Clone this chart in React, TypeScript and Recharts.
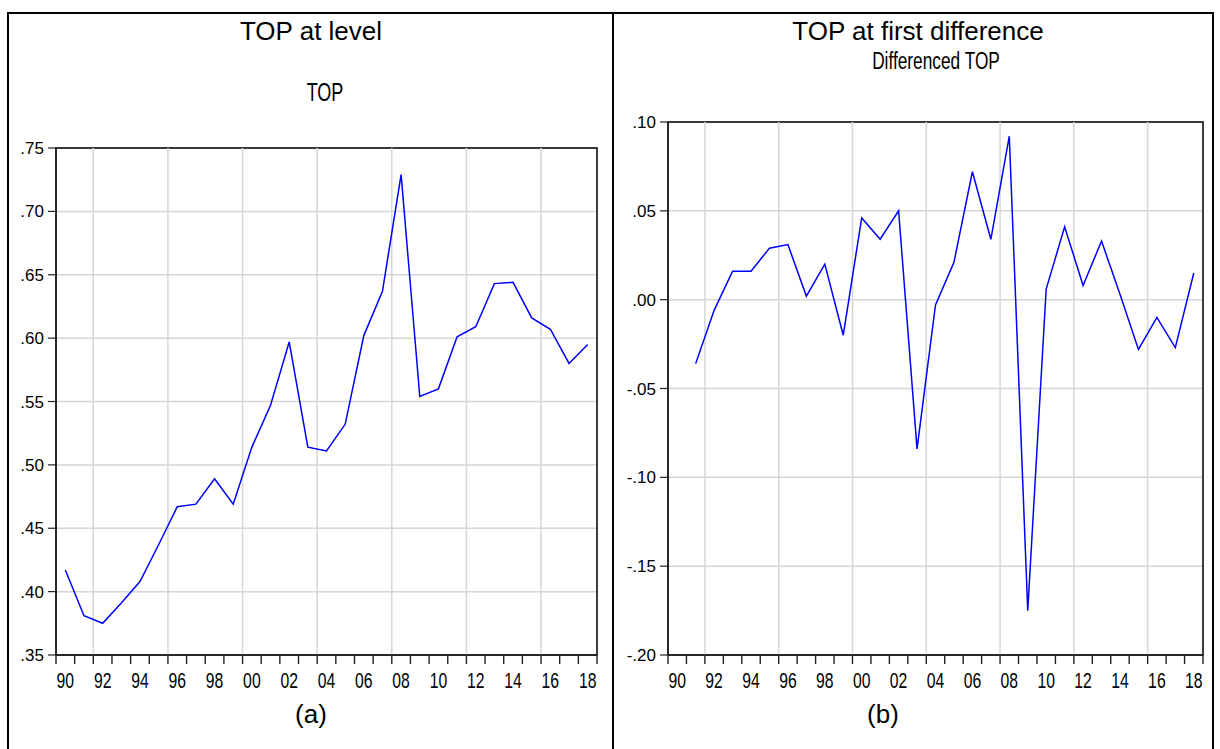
import React from 'react'
import { LineChart, Line, XAxis, YAxis, CartesianGrid, ReferenceLine, ReferenceArea } from 'recharts'

const SANS = "'Liberation Sans', Arial, sans-serif"

// years shown on the level chart
const YEARS = [
  1990, 1991, 1992, 1993, 1994, 1995, 1996, 1997, 1998, 1999,
  2000, 2001, 2002, 2003, 2004, 2005, 2006, 2007, 2008, 2009,
  2010, 2011, 2012, 2013, 2014, 2015, 2016, 2017, 2018
]

const TOP_LEVEL = [
  0.417, 0.381, 0.375, 0.391, 0.408, 0.437, 0.467, 0.469, 0.489, 0.469,
  0.514, 0.547, 0.597, 0.514, 0.511, 0.532, 0.602, 0.637, 0.729, 0.554,
  0.56, 0.601, 0.609, 0.643, 0.644, 0.616, 0.607, 0.58, 0.595
]

// first difference starts one year later
const DIFF_YEARS = YEARS.slice(1)

const TOP_DIFF = [
  -0.036, -0.006, 0.016, 0.016, 0.029, 0.031, 0.002, 0.02, -0.02,
  0.046, 0.034, 0.05, -0.084, -0.003, 0.021, 0.072, 0.034, 0.092, -0.175,
  0.006, 0.041, 0.008, 0.033, 0.003, -0.028, -0.01, -0.027, 0.015
]

const LEVEL_TICKS = [0.35, 0.4, 0.45, 0.5, 0.55, 0.6, 0.65, 0.7, 0.75]
const DIFF_TICKS = [-0.2, -0.15, -0.1, -0.05, 0, 0.05, 0.1]

// tick marks at every year boundary, labels every second year, grid every fourth
const YEAR_BOUNDS = [...YEARS, 2019]
const LABEL_YEARS = [1990, 1992, 1994, 1996, 1998, 2000, 2002, 2004, 2006, 2008, 2010, 2012, 2014, 2016, 2018]
const GRID_YEARS = [1992, 1996, 2000, 2004, 2008, 2012, 2016]

const fmtY = (v: number) => v.toFixed(2).replace(/^(-?)0\./, '$1.')
const fmtYear = (v: number) => String(Math.floor(v) % 100).padStart(2, '0')

// tick mark on the year boundary, label centred in the year's interval
function YearTick(props: any) {
  const { x, y, payload, width } = props
  const step = width / (YEAR_BOUNDS.length - 1)
  const yr = payload.value
  return (
    <g>
      <line x1={x} y1={y} x2={x} y2={y + 9} stroke="#222" strokeWidth={1.4} />
      {LABEL_YEARS.includes(yr) && (
        <text
          transform={`translate(${x + step / 2},${y + 33}) scale(0.7,1)`}
          textAnchor="middle"
          fontFamily={SANS}
          fontSize={22.5}
          fill="#000"
        >
          {fmtYear(yr)}
        </text>
      )}
    </g>
  )
}

interface PanelProps {
  years: number[]
  values: number[]
  yTicks: number[]
  width: number
  height: number
  margin: { top: number; right: number; bottom: number; left: number }
  yAxisWidth: number
}

function Panel({ years, values, yTicks, width, height, margin, yAxisWidth }: PanelProps) {
  // points sit in the middle of each year's interval
  const data = years.map((y, i) => ({ x: y + 0.5, v: values[i] }))
  const yMin = yTicks[0]
  const yMax = yTicks[yTicks.length - 1]
  const xMin = YEAR_BOUNDS[0]
  const xMax = YEAR_BOUNDS[YEAR_BOUNDS.length - 1]

  return (
    <LineChart width={width} height={height} data={data} margin={margin}>
      <CartesianGrid vertical={false} stroke="#d6d6d6" strokeWidth={1.5} />
      {GRID_YEARS.map((g) => (
        <ReferenceLine key={g} x={g} stroke="#d6d6d6" strokeWidth={1.5} />
      ))}
      <XAxis
        type="number"
        dataKey="x"
        domain={[xMin, xMax]}
        ticks={YEAR_BOUNDS}
        interval={0}
        height={40}
        tickSize={0}
        tickMargin={0}
        tickLine={false}
        axisLine={{ stroke: '#222', strokeWidth: 1.5 }}
        tick={<YearTick />}
      />
      <YAxis
        width={yAxisWidth}
        domain={[yMin, yMax]}
        ticks={yTicks}
        interval={0}
        tickSize={8}
        tickMargin={4}
        tickFormatter={fmtY}
        axisLine={{ stroke: '#222', strokeWidth: 1.5 }}
        tickLine={{ stroke: '#222', strokeWidth: 1.2 }}
        tick={{ fill: '#000', fontSize: 17, fontFamily: SANS }}
      />
      <ReferenceArea
        x1={xMin}
        x2={xMax}
        y1={yMin}
        y2={yMax}
        fill="none"
        fillOpacity={0}
        stroke="#000"
        strokeWidth={1.5}
      />
      <Line
        type="linear"
        dataKey="v"
        stroke="#0000ff"
        strokeWidth={1.5}
        dot={false}
        isAnimationActive={false}
      />
    </LineChart>
  )
}

export default function App() {
  return (
    <div style={{ position: 'absolute', left: 0, top: 0, width: 1220, height: 749, background: '#fff', overflow: 'hidden' }}>
      <svg width={1220} height={749} style={{ position: 'absolute', left: 0, top: 0 }}>
        <line x1={7} y1={13} x2={1214} y2={13} stroke="#000" strokeWidth={2} />
        <line x1={8} y1={12} x2={8} y2={749} stroke="#000" strokeWidth={2} />
        <line x1={613} y1={12} x2={613} y2={749} stroke="#000" strokeWidth={2} />
        <line x1={1213} y1={12} x2={1213} y2={749} stroke="#000" strokeWidth={2} />
        <text x={311} y={40} textAnchor="middle" fontFamily={SANS} fontSize={26} fill="#000">TOP at level</text>
        <text transform="translate(325,101) scale(0.72,1)" textAnchor="middle" fontFamily={SANS} fontSize={25} fill="#000">TOP</text>
        <text x={311} y={723} textAnchor="middle" fontFamily={SANS} fontSize={26} fill="#000">(a)</text>
        <text x={918} y={40} textAnchor="middle" fontFamily={SANS} fontSize={26} fill="#000">TOP at first difference</text>
        <text transform="translate(936,69) scale(0.72,1)" textAnchor="middle" fontFamily={SANS} fontSize={24} fill="#000">Differenced TOP</text>
        <text x={883} y={723} textAnchor="middle" fontFamily={SANS} fontSize={26} fill="#000">(b)</text>
      </svg>
      <div style={{ position: 'absolute', left: 0, top: 0 }}>
        <Panel
          years={YEARS}
          values={TOP_LEVEL}
          yTicks={LEVEL_TICKS}
          width={610}
          height={749}
          margin={{ top: 148, right: 13, bottom: 54, left: 0 }}
          yAxisWidth={56}
        />
      </div>
      <div style={{ position: 'absolute', left: 613, top: 0 }}>
        <Panel
          years={DIFF_YEARS}
          values={TOP_DIFF}
          yTicks={DIFF_TICKS}
          width={600}
          height={749}
          margin={{ top: 122, right: 10, bottom: 54, left: 0 }}
          yAxisWidth={55}
        />
      </div>
    </div>
  )
}
